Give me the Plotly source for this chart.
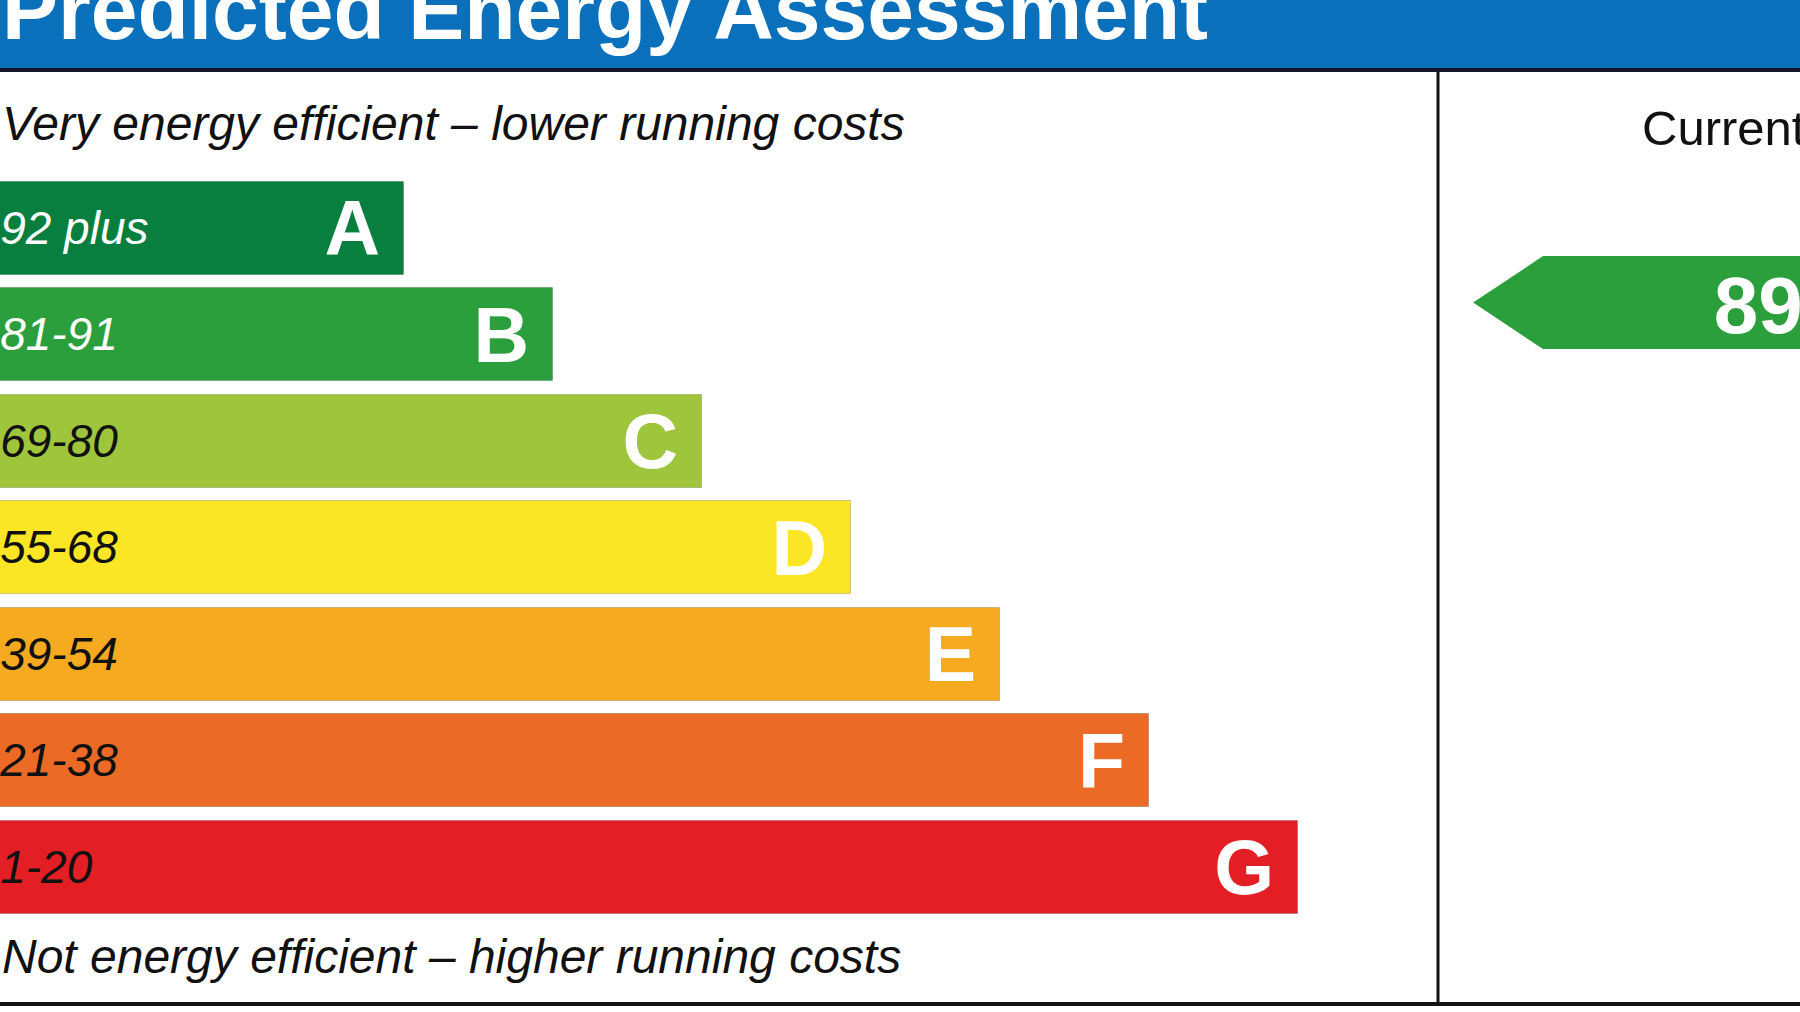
import plotly.graph_objects as go

# ---------------- data ----------------
bands = ["A", "B", "C", "D", "E", "F", "G"]
band_ranges = ["92 plus", "81-91", "69-80", "55-68", "39-54", "21-38", "1-20"]
band_low = [92, 81, 69, 55, 39, 21, 1]
band_high = [100, 91, 80, 68, 54, 38, 20]
band_length = [1, 2, 3, 4, 5, 6, 7]          # relative bar lengths (A shortest)
band_colors = ["#087f3f", "#2b9f3b", "#9fc53c", "#fbe626", "#f6aa1f", "#eb6a25", "#e31e24"]
range_text_colors = ["#ffffff", "#ffffff", "#111111", "#111111", "#111111", "#111111", "#111111"]
current_score = 89
title_text = "Predicted Energy Assessment"
top_note = "Very energy efficient – lower running costs"
bottom_note = "Not energy efficient – higher running costs"
current_label = "Current"

# ---------------- style constants ----------------
FONT = "Liberation Sans, Arial, sans-serif"
W, H = 1800, 1012
X_RANGE = [-1.711, 10.369]
Y_RANGE = [7.361, -2.141]
BAR_BASE = -2.5
BAR_WIDTH = 0.873
LETTER_PAD = 0.16
LETTER_DY = 0.075
RANGE_DY = 0.04
SCORE_DY = 0.095
HEADER_BLUE = "#0b70bc"
DIVIDER_X = 1438 / W
ARROW_TIP = 0.097
ARROW_BODY = 0.29
ARROW_END = 1.1

ypos = list(range(len(bands)))

fig = go.Figure()

# bands
fig.add_trace(go.Bar(
    y=ypos, x=[v - BAR_BASE for v in band_length], base=BAR_BASE,
    orientation="h", width=BAR_WIDTH,
    marker=dict(color=band_colors, line=dict(color="rgba(0,0,0,0.18)", width=1)),
    hoverinfo="skip", showlegend=False,
))

# range labels
fig.add_trace(go.Scatter(
    y=[p + RANGE_DY for p in ypos], x=[X_RANGE[0] + 0.001] * len(bands), mode="text",
    text=["<i>%s</i>" % t for t in band_ranges], textposition="middle right",
    textfont=dict(family=FONT, size=46, color=range_text_colors),
    hoverinfo="skip", showlegend=False,
))

# band letters
fig.add_trace(go.Scatter(
    y=[p + LETTER_DY for p in ypos], x=[v - LETTER_PAD for v in band_length], mode="text",
    text=["<b>%s</b>" % b for b in bands], textposition="middle left",
    textfont=dict(family=FONT, size=77, color="#ffffff"),
    hoverinfo="skip", showlegend=False,
))

# current rating arrow
bi = next(i for i in range(len(bands)) if band_low[i] <= current_score <= band_high[i])
arrow_y = ypos[bi] - 0.5 + (band_high[bi] - current_score) / (band_high[bi] - band_low[bi])
half = BAR_WIDTH / 2
fig.add_trace(go.Scatter(
    x=[ARROW_TIP, ARROW_BODY, ARROW_END, ARROW_END, ARROW_BODY, ARROW_TIP],
    y=[arrow_y, arrow_y - half, arrow_y - half, arrow_y + half, arrow_y + half, arrow_y],
    xaxis="x2", yaxis="y", mode="lines", fill="toself",
    fillcolor=band_colors[bi], line=dict(width=0, color=band_colors[bi]),
    hoverinfo="skip", showlegend=False,
))
fig.add_trace(go.Scatter(
    x=[0.762], y=[arrow_y + SCORE_DY], xaxis="x2", yaxis="y", mode="text",
    text=["<b>%d</b>" % current_score], textposition="middle right",
    textfont=dict(family=FONT, size=80, color="#ffffff"),
    hoverinfo="skip", showlegend=False,
))

fig.update_layout(
    width=W, height=H,
    margin=dict(l=0, r=0, t=0, b=0),
    paper_bgcolor="#ffffff", plot_bgcolor="rgba(0,0,0,0)",
    xaxis=dict(range=X_RANGE, domain=[0, 1], visible=False, fixedrange=True),
    xaxis2=dict(range=[0, 1], domain=[DIVIDER_X, 1], anchor="y", visible=False, fixedrange=True),
    yaxis=dict(range=Y_RANGE, visible=False, fixedrange=True),
    bargap=0,
    shapes=[
        dict(type="rect", xref="paper", yref="paper", x0=0, x1=1, y0=1 - 68 / H, y1=1,
             fillcolor=HEADER_BLUE, line=dict(width=0), layer="below"),
        dict(type="line", xref="paper", yref="paper", x0=0, x1=1, y0=1 - 70 / H, y1=1 - 70 / H,
             line=dict(color="#15182a", width=4)),
        dict(type="line", xref="paper", yref="paper", x0=DIVIDER_X, x1=DIVIDER_X,
             y0=1 - 72 / H, y1=1 - 1005 / H, line=dict(color="#111111", width=3)),
        dict(type="line", xref="paper", yref="paper", x0=0, x1=1, y0=1 - 1004 / H, y1=1 - 1004 / H,
             line=dict(color="#111111", width=4)),
    ],
    annotations=[
        dict(text="<b>%s</b>" % title_text, xref="paper", yref="paper", x=0, y=1 - 10 / H,
             xanchor="left", yanchor="middle", showarrow=False,
             font=dict(family=FONT, size=84, color="#ffffff")),
        dict(text="<i>%s</i>" % top_note, xref="paper", yref="paper", x=0, y=1 - 124 / H,
             xanchor="left", yanchor="middle", showarrow=False,
             font=dict(family=FONT, size=48, color="#111111")),
        dict(text="<i>%s</i>" % bottom_note, xref="paper", yref="paper", x=0, y=1 - 956 / H,
             xanchor="left", yanchor="middle", showarrow=False,
             font=dict(family=FONT, size=48, color="#111111")),
        dict(text=current_label, xref="paper", yref="paper", x=1640 / W, y=1 - 128 / H,
             xanchor="left", yanchor="middle", showarrow=False,
             font=dict(family=FONT, size=49, color="#111111")),
    ],
)

fig.write_html(
    "out.html",
    config={"displayModeBar": False},
    post_script="document.body.style.margin='0';document.body.style.overflow='hidden';",
)
